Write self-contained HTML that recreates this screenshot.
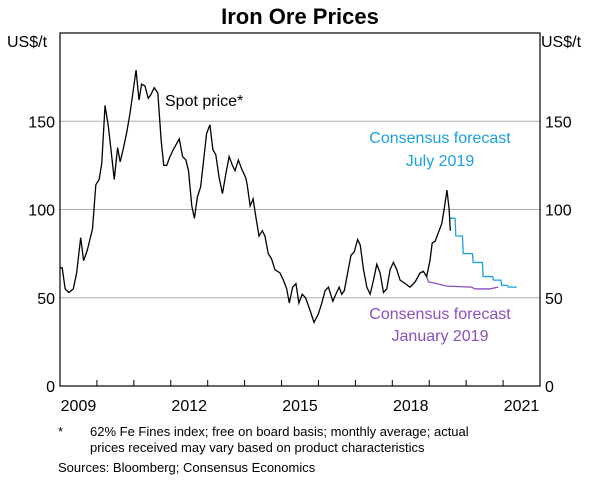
<!DOCTYPE html>
<html><head><meta charset="utf-8"><style>
html,body{margin:0;padding:0;background:#fff;}
svg{display:block;font-family:"Liberation Sans",Arial,sans-serif;}
</style></head><body>
<svg width="600" height="482" viewBox="0 0 600 482">
<text x="300" y="24" text-anchor="middle" font-size="22" font-weight="bold">Iron Ore Prices</text>
<text x="7" y="47" font-size="16">US$/t</text>
<text x="541" y="47" font-size="16">US$/t</text>
<g id="grid"></g>
<g id="series"></g>
<rect x="60" y="33" width="480" height="353" fill="none" stroke="#000" stroke-width="1.2"/>
<g id="axes"></g>
<text x="165" y="106" font-size="16">Spot price*</text>
<text x="440" y="143" font-size="16" fill="#1aa0dc" text-anchor="middle">Consensus forecast</text>
<text x="440" y="166" font-size="16" fill="#1aa0dc" text-anchor="middle">July 2019</text>
<text x="440" y="319" font-size="16" fill="#8a4fbf" text-anchor="middle">Consensus forecast</text>
<text x="440" y="341" font-size="16" fill="#8a4fbf" text-anchor="middle">January 2019</text>
<text x="58" y="436" font-size="13">*</text>
<text x="90" y="436" font-size="13">62% Fe Fines index; free on board basis; monthly average; actual</text>
<text x="90" y="452" font-size="13">prices received may vary based on product characteristics</text>
<text x="58" y="472" font-size="13">Sources:   Bloomberg; Consensus Economics</text>
</svg>
<script>
const yTicks=[0,50,100,150];
const yearLabels=["2009","2012","2015","2018","2021"];
const yearLabelOffsets=[0,3,6,9,12];
const spotT=[0,.06,.14,.24,.36,.45,.56,.64,.74,.88,.97,1.06,1.13,1.22,1.31,1.38,1.47,1.56,1.63,1.72,1.81,1.90,2.06,2.14,2.21,2.30,2.39,2.46,2.55,2.65,2.74,2.81,2.89,2.98,3.07,3.23,3.32,3.41,3.48,3.57,3.64,3.72,3.81,3.88,3.97,4.06,4.14,4.22,4.31,4.40,4.49,4.58,4.67,4.74,4.83,4.92,5.03,5.07,5.15,5.23,5.31,5.39,5.48,5.55,5.64,5.73,5.82,5.96,6.05,6.14,6.21,6.30,6.39,6.47,6.56,6.65,6.77,6.88,7.00,7.09,7.18,7.27,7.39,7.47,7.56,7.63,7.70,7.79,7.88,7.97,8.06,8.13,8.22,8.31,8.40,8.49,8.58,8.67,8.76,8.85,8.94,9.03,9.12,9.21,9.35,9.48,9.62,9.75,9.84,9.93,10.02,10.08,10.16,10.25,10.34,10.41,10.48,10.54,10.57];
const spotV=[67,67,55,53,55,64,84,71,77,89,114,117,126,159,147,134,117,135,127,135,144,155,179,162,171,170,163,165,169,166,139,125,125,130,134,140,130,128,122,102,95,107,113,126,143,148,134,131,118,109,120,130,125,122,128,123,118,114,102,106,95,85,88,85,75,72,66,64,60,55,47,56,58,47,52,50,43,36,41,47,54,56,48,52,56,52,54,64,74,76,83,80,66,56,52,60,69,64,53,55,66,70,66,60,58,56,59,64,65,62,71,81,82,87,92,101,111,100,88];
const julT=[10.54,10.70,10.72,10.90,10.92,11.17,11.19,11.44,11.46,11.72,11.74,11.94,11.96,12.12,12.14,12.37];
const julV=[95,95,85,85,75,75,70,70,62,62,60,60,57,57,56,56];
const janT=[9.93,9.98,10.2,10.48,11.15,11.24,11.64,11.87];
const janV=[62,59,58,56.6,56,55,55,56];
const X=t=>60+t*480/13, Y=v=>386-v*353/200;
const NS="http://www.w3.org/2000/svg";
function mk(tag,attrs,parent){const e=document.createElementNS(NS,tag);for(const k in attrs)e.setAttribute(k,attrs[k]);parent.appendChild(e);return e;}
const grid=document.getElementById('grid'),axes=document.getElementById('axes'),series=document.getElementById('series');
yTicks.forEach(v=>{
 if(v>0){const g=mk('line',{x1:60,x2:540,y1:Y(v),y2:Y(v),stroke:'#b0b0b0','stroke-width':1},grid);
 
 }
 const l=mk('text',{x:55,y:Y(v)+6,'text-anchor':'end','font-size':16},axes);l.textContent=v;
 
 
 const r=mk('text',{x:545,y:Y(v)+6,'font-size':16},axes);r.textContent=v;
 
 
});
for(let i=1;i<13;i++){const t=mk('line',{x1:X(i),x2:X(i),y1:386,y2:380,stroke:'#000','stroke-width':1},axes);
 
 }
yearLabels.forEach((s,i)=>{const t=mk('text',{x:X(yearLabelOffsets[i]+0.5),y:411,'text-anchor':'middle','font-size':16},axes);t.textContent=s;
 
 });
function line(T,V,col,name){const p=mk('polyline',{points:T.map((t,i)=>X(t)+','+Y(V[i])).join(' '),fill:'none',stroke:col,'stroke-width':1.3},series);
 
 }
line(janT,janV,'#8a4fbf','jan-2019-forecast-line');
line(julT,julV,'#1aa0dc','jul-2019-forecast-line');
line(spotT,spotV,'#000','spot-price-line');
</script>
</body></html>
